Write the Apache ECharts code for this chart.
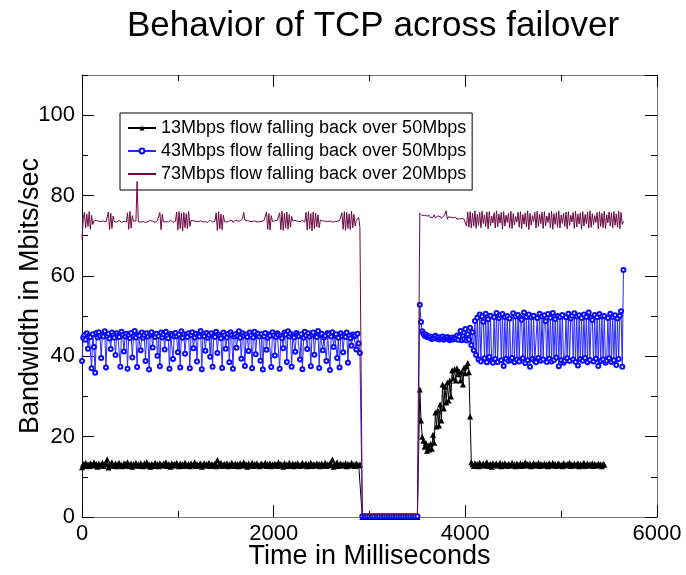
<!DOCTYPE html>
<html>
<head>
<meta charset="utf-8">
<script src="https://cdn.jsdelivr.net/npm/echarts@6/dist/echarts.min.js"></script>
<style>
  html, body { margin: 0; padding: 0; background: #fff; }
  #chart { width: 686px; height: 575px; }
</style>
</head>
<body>
<div id="chart"></div>
<script>
// each run of samples has its own start time (ms) and spacing (ms)
const BEFORE = { start: 0, step: 12.5 };
const OUTAGE = { start: 2925, step: 25 };
const AFTER = { start: 3525, step: 12.5 };

const seriesNames = [
  '13Mbps flow falling back over 50Mbps',
  '43Mbps flow falling back over 50Mbps',
  '73Mbps flow falling back over 20Mbps'
];

// 13 Mbps flow
const tcp13Before = [
  12.4, 13.2, 12.7, 13.5, 12.9, 13.1, 12.6, 13.4, 13.0, 12.8,
  13.6, 12.9, 13.2, 12.5, 13.3, 13.0, 12.8, 13.5, 12.7, 13.1,
  13.4, 14.4, 12.3, 13.2, 12.9, 13.6, 12.7, 13.0, 13.3, 12.6,
  13.1, 13.5, 12.8, 13.0, 12.6, 13.4, 13.2, 12.9, 13.6, 12.7,
  13.0, 13.3, 12.5, 13.2, 12.9, 13.5, 12.8, 13.1, 12.7, 13.4,
  13.0, 12.6, 13.3, 12.9, 13.6, 12.8, 13.1, 12.5, 13.2, 13.0,
  12.7, 13.5, 12.9, 13.2, 12.6, 13.4, 13.0, 12.8, 13.3, 12.9,
  13.6, 12.7, 13.1, 13.0, 12.5, 13.4, 12.9, 13.2, 12.8, 13.5,
  13.0, 12.6, 13.3, 12.9, 13.1, 12.7, 13.5, 13.0, 12.8, 13.2,
  12.6, 13.4, 13.0, 12.9, 13.6, 12.7, 13.2, 12.8, 13.1, 13.3,
  12.5, 13.0, 13.4, 12.8, 13.2, 12.9, 13.5, 12.7, 13.1, 13.0,
  12.8, 13.3, 12.6, 14.2, 12.9, 13.1, 13.5, 12.7, 13.0, 13.2,
  12.9, 13.4, 12.6, 13.1, 12.8, 13.5, 13.0, 12.7, 13.3, 12.9,
  13.2, 12.6, 13.4, 13.0, 12.8, 13.6, 12.9, 13.1, 12.5, 13.3,
  13.0, 12.8, 13.5, 12.7, 13.2, 12.9, 13.4, 13.0, 12.6, 13.1,
  13.3, 12.8, 13.0, 13.5, 12.7, 13.2, 12.9, 13.4, 12.6, 13.1,
  12.9, 13.3, 13.0, 12.7, 13.6, 12.8, 13.2, 13.0, 12.5, 13.4,
  12.9, 13.1, 12.7, 13.5, 13.0, 12.8, 13.3, 12.6, 13.2, 12.9,
  13.4, 13.0, 12.7, 13.1, 13.5, 12.8, 13.0, 13.3, 12.6, 13.2,
  12.9, 13.5, 12.7, 13.1, 13.0, 12.8, 13.4, 12.9, 13.2, 12.6,
  13.3, 13.0, 12.8, 13.5, 12.7, 13.1, 12.9, 13.4, 13.0, 14.3,
  12.5, 13.2, 12.9, 13.6, 12.7, 13.0, 13.3, 12.8, 13.1, 12.9,
  13.4, 12.6, 13.2, 13.0, 12.8, 13.5, 12.9, 13.1, 12.7, 13.3,
  13.0, 12.8, 13.1
];
const tcp13Outage = [
  0, 0, 0, 0, 0, 0, 0, 0, 0, 0, 0, 0,
  0, 0, 0, 0, 0, 0, 0, 0, 0, 0, 0, 0
];
const tcp13After = [
  31.7, 24.0, 20.0, 19.0, 17.5, 18.5, 16.5, 17.8, 16.8, 18.2,
  17.0, 20.5, 18.5, 26.0, 22.5, 26.5, 22.8, 28.0, 24.0, 33.0,
  27.0, 32.5, 28.5, 33.5, 29.0, 34.0, 30.0, 36.5, 34.5, 36.8,
  34.0, 37.0, 35.5, 36.2, 34.0, 36.0, 33.0, 37.2, 35.8, 37.5,
  38.3, 36.0, 25.0, 13.6,
  13.1, 12.7, 13.4, 12.9, 13.2, 12.6, 13.5, 13.0, 12.8, 13.3,
  12.9, 13.1, 13.6, 12.7, 13.0, 13.2, 12.5, 13.4, 12.9, 13.1,
  13.3, 12.8, 13.0, 13.5, 12.6, 13.2, 12.9, 13.4, 13.0, 12.7,
  13.2, 13.0, 12.8, 13.5, 12.9, 13.1, 12.6, 13.3, 13.0, 12.8,
  13.4, 12.7, 13.1, 13.0, 13.6, 12.8, 13.2, 12.9, 13.3, 12.6,
  13.0, 13.4, 12.8, 13.1, 12.9, 13.5, 12.7, 13.2, 13.0, 12.8,
  13.3, 12.9, 13.1, 12.6, 13.4, 13.0, 12.8, 13.5, 12.9, 13.2,
  12.7, 13.1, 13.3, 12.9, 13.0, 12.6, 13.4, 13.1, 12.8, 13.2,
  13.0, 13.5, 12.7, 13.1, 12.9, 13.3, 12.8, 13.0, 13.4, 12.6,
  13.2, 12.9, 13.1, 13.5, 12.7, 13.0, 13.3, 12.8, 13.1, 12.9,
  13.4, 12.7, 13.2, 13.0, 12.8, 13.3, 12.9, 13.1, 12.6, 13.2,
  13.0
];

// 43 Mbps flow
const tcp43Before = [
  38.8, 44.6, 45.3, 44.1, 45.7, 41.9, 45.2, 44.8, 37.0, 45.5,
  42.3, 35.9, 45.8, 44.7, 46.0, 45.1, 39.6, 45.4, 44.9, 46.2,
  37.2, 45.0, 45.6, 44.4, 41.8, 45.9, 45.2, 44.6, 40.3, 45.7,
  45.1, 44.8, 37.4, 46.1, 45.3, 41.2, 44.9, 45.6, 36.9, 45.2,
  44.5, 45.8, 39.7, 45.0, 46.3, 44.7, 37.3, 45.4, 45.1, 41.5,
  45.9, 44.6, 45.3, 38.8, 45.7, 44.9, 36.7, 45.5, 46.0, 42.2,
  45.2, 44.8, 45.6, 40.1, 45.0, 37.5, 45.9, 44.7, 45.4, 41.7,
  46.1, 45.1, 44.5, 36.9, 45.6, 45.3, 39.3, 44.9, 45.8, 45.0,
  41.0, 45.4, 37.2, 46.2, 44.6, 45.5, 40.6, 45.1, 44.8, 45.7,
  37.0, 45.3, 46.0, 42.0, 44.7, 45.6, 38.7, 45.2, 44.9, 46.3,
  36.8, 45.5, 45.0, 41.4, 45.8, 44.6, 45.3, 39.9, 45.7, 37.4,
  45.1, 44.8, 46.1, 40.8, 45.4, 45.0, 44.5, 37.1, 45.9, 45.2,
  41.9, 44.7, 45.6, 38.5, 46.0, 45.3, 36.9, 44.9, 45.5, 42.1,
  45.0, 46.2, 44.6, 39.4, 45.7, 45.1, 37.6, 45.4, 44.8, 41.3,
  45.9, 45.2, 37.0, 44.7, 46.1, 40.5, 45.3, 45.6, 44.9, 38.9,
  45.5, 36.7, 45.0, 45.8, 41.6, 44.6, 45.4, 45.1, 37.3, 46.0,
  45.2, 40.2, 44.8, 45.7, 45.3, 36.9, 45.0, 44.5, 42.0, 45.9,
  45.4, 38.6, 46.2, 44.9, 45.6, 37.4, 45.1, 44.7, 41.1, 45.8,
  45.3, 45.0, 39.2, 45.5, 36.8, 44.6, 46.1, 45.2, 41.8, 45.7,
  44.9, 37.5, 45.4, 45.9, 40.4, 45.0, 44.8, 46.3, 37.1, 45.3,
  45.6, 41.5, 44.7, 45.1, 38.8, 45.8, 45.4, 36.6, 44.9, 46.0,
  42.3, 45.2, 45.5, 39.6, 44.6, 37.2, 45.7, 45.0, 41.0, 45.3,
  44.8, 45.9, 38.4, 45.1, 44.5, 42.6, 45.4, 44.9, 45.2, 41.7,
  45.6, 43.2, 40.8
];
const tcp43Outage = [
  0.2, 0.2, 0.2, 0.2, 0.2, 0.2, 0.2, 0.2, 0.2, 0.2, 0.2, 0.2,
  0.2, 0.2, 0.2, 0.2, 0.2, 0.2, 0.2, 0.2, 0.2, 0.2, 0.2, 0.2
];
const tcp43After = [
  52.8, 48.5, 46.2, 45.6, 45.1, 45.4, 44.8, 45.0, 44.6, 44.9,
  44.3, 44.7, 44.5, 45.1, 44.4, 44.8, 44.2, 44.6, 44.5, 44.9,
  44.1, 44.6, 44.4, 44.8, 44.3, 44.0, 44.5, 44.7, 44.2, 44.6,
  44.4, 45.2, 44.1, 44.9, 46.3, 44.0, 45.0, 44.3, 46.8, 43.9,
  45.5, 44.2, 47.1, 42.8, 46.0, 41.5, 48.8, 40.3,
  49.6, 39.2, 50.4, 38.7, 49.9, 48.6, 39.5, 50.6, 38.5, 49.2,
  39.8, 50.1, 38.9, 38.4, 49.7, 39.3, 50.8, 38.6, 49.5, 50.2,
  39.0, 50.5, 37.6, 49.8, 39.4, 50.0, 38.8, 49.4, 39.1, 39.6,
  50.7, 38.5, 49.9, 39.2, 50.3, 38.7, 49.6, 49.1, 39.5, 50.9,
  38.3, 49.8, 39.0, 50.4, 37.4, 49.7, 39.3, 50.1, 38.8, 38.5,
  49.5, 39.6, 50.6, 38.9, 49.9, 39.2, 50.2, 48.7, 38.6, 50.5,
  39.4, 49.6, 38.7, 50.8, 39.1, 49.3, 39.7, 50.0, 37.5, 49.8,
  39.0, 50.3, 38.4, 38.9, 49.7, 39.5, 50.6, 38.8, 49.4, 50.1,
  39.2, 50.7, 38.6, 49.9, 37.7, 50.2, 39.3, 49.5, 38.9, 50.4,
  39.6, 49.8, 38.5, 50.9, 39.1, 49.6, 49.0, 38.7, 50.3, 39.4,
  49.7, 37.6, 50.5, 38.8, 49.9, 39.2, 50.0, 38.4, 38.9, 49.5,
  39.5, 50.6, 38.6, 49.8, 39.0, 50.2, 37.8, 49.4, 39.3, 50.1,
  51.2, 37.4, 61.5
];

// 73 Mbps flow
const tcp73Before = [
  69.0, 74.2, 75.8, 71.9, 75.4, 72.3, 76.0, 71.6, 75.1, 72.8,
  73.7, 73.5, 73.8, 73.4, 73.6, 73.9, 73.5, 73.3, 73.7, 73.6,
  73.4, 73.8, 75.9, 71.5, 75.6, 71.8, 74.9, 73.5, 73.7, 73.4,
  73.6, 73.8, 73.5, 73.3, 73.7, 73.6, 73.9, 73.4, 75.7, 71.6,
  76.1, 71.9, 75.0, 73.6, 73.4, 73.7, 83.5, 73.5, 73.8, 73.4,
  73.6, 73.5, 73.9, 73.3, 73.7, 73.5, 73.6, 73.8, 73.4, 73.6,
  73.7, 73.3, 73.5, 73.8, 73.6, 75.8, 71.5, 75.3, 73.4, 73.7,
  73.5, 73.8, 73.4, 73.6, 73.9, 73.5, 73.3, 73.7, 73.6, 75.9,
  71.4, 76.0, 71.8, 75.6, 71.2, 75.8, 72.0, 75.5, 71.7, 76.1,
  72.3, 73.8, 73.5, 73.7, 73.4, 73.6, 73.8, 73.5, 73.3, 73.7,
  73.6, 73.4, 73.8, 73.5, 73.7, 73.3, 73.6, 73.9, 73.5, 73.4,
  73.7, 73.6, 75.7, 71.3, 76.0, 71.7, 75.4, 71.5, 75.1, 73.5,
  73.8, 73.4, 73.6, 73.7, 73.5, 73.9, 73.3, 73.6, 73.8, 73.4,
  73.7, 73.5, 73.6, 73.4, 74.2, 75.8, 73.9, 73.5, 73.7, 73.4,
  73.6, 73.8, 73.5, 73.3, 73.7, 73.6, 73.4, 73.8, 73.5, 73.7,
  73.6, 73.4, 73.8, 73.5, 75.9, 71.6, 75.5, 71.4, 75.0, 73.6,
  73.4, 73.7, 73.5, 73.8, 73.6, 75.7, 71.5, 76.1, 71.3, 75.6,
  71.9, 75.9, 71.6, 75.3, 72.1, 74.8, 73.7, 73.5, 73.8, 73.4,
  73.6, 73.7, 73.5, 73.3, 73.8, 73.6, 73.4, 75.8, 71.4, 76.0,
  71.7, 75.5, 71.2, 75.9, 71.8, 75.6, 72.2, 75.2, 72.0, 73.9,
  73.5, 73.7, 73.4, 73.6, 73.8, 73.5, 73.3, 73.7, 73.6, 73.4,
  73.8, 73.5, 73.7, 73.6, 73.4, 73.8, 73.5, 75.7, 71.6, 76.0,
  71.3, 75.8, 71.8, 75.4, 71.5, 76.1, 72.0, 75.3, 72.4, 73.8,
  73.5, 74.6, 72.0
];
const tcp73Outage = [
  0.7, 0.7, 0.7, 0.7, 0.7, 0.7, 0.7, 0.7, 0.7, 0.7, 0.7, 0.7,
  0.7, 0.7, 0.7, 0.7, 0.7, 0.7, 0.7, 0.7, 0.7, 0.7, 0.7, 0.7
];
const tcp73After = [
  75.6, 75.2, 75.0, 74.8, 75.1, 74.7, 74.9, 74.6, 75.0, 74.5,
  74.8, 74.6, 75.2, 74.4, 74.7, 74.9, 74.5, 74.8, 74.3, 74.6,
  74.9, 75.4, 76.2, 74.1, 74.7, 74.4, 74.6, 74.2, 74.5, 74.3,
  74.6, 74.1, 74.4, 74.2, 74.0, 74.3, 73.9, 74.1, 73.8, 72.4,
  75.9, 72.1, 76.0, 71.9, 75.6, 72.4, 76.2, 71.8, 75.3, 72.6,
  75.8, 72.0, 76.1, 73.0, 75.2, 72.3, 75.9, 71.7, 76.0, 72.5,
  74.9, 73.2, 75.7, 71.9, 76.2, 72.2, 75.4, 73.1, 75.8, 71.6,
  76.0, 72.4, 75.1, 73.3, 75.6, 72.0, 76.1, 71.8, 75.5, 72.7,
  74.8, 73.4, 75.9, 72.1, 76.0, 71.7, 75.3, 72.9, 75.7, 72.2,
  76.2, 71.5, 75.6, 72.6, 75.0, 73.5, 75.8, 71.9, 76.1, 72.3,
  75.4, 73.0, 75.9, 71.8, 76.0, 72.4, 74.9, 73.3, 75.7, 72.0,
  76.1, 71.6, 75.5, 72.8, 75.8, 72.1, 76.2, 71.9, 75.2, 73.1,
  75.6, 72.3, 75.9, 71.7, 76.0, 72.5, 75.1, 73.4, 75.8, 71.8,
  76.1, 72.2, 75.4, 72.9, 75.7, 71.6, 76.0, 72.4, 75.3, 73.0,
  75.9, 71.9, 76.2, 72.1, 75.5, 72.7, 75.0, 73.3, 75.8, 71.7,
  76.0, 72.3, 75.6, 72.0, 76.1, 71.8, 75.2, 73.2, 75.9, 72.4,
  75.7, 71.9, 76.0, 72.6, 75.4, 72.1, 76.2, 71.7, 75.8, 72.8,
  73.6
];

const xTicks = { min: 0, max: 6000, interval: 2000 };
const yTicks = { min: 0, max: 110, interval: 20, minorInterval: 10 };

function run(vals, seg) {
  return vals.map((v, i) => [seg.start + i * seg.step, v]);
}
function toPoints(before, outage, after) {
  return run(before, BEFORE).concat(run(outage, OUTAGE), run(after, AFTER));
}

const FONT = 'Liberation Sans, Arial, sans-serif';
const frameColor = '#777';

const chart = echarts.init(document.getElementById('chart'));

function xAxisDef(pos, labels) {
  return {
    type: 'value',
    position: pos,
    min: xTicks.min,
    max: xTicks.max,
    interval: xTicks.interval,
    name: labels ? 'Time in Milliseconds' : '',
    nameLocation: 'middle',
    nameGap: 26,
    nameMoveOverlap: false,
    nameTextStyle: { fontSize: 27, color: '#000', fontFamily: FONT },
    axisLine: { show: true, onZero: false, lineStyle: { color: frameColor, width: 1 } },
    axisTick: { show: true, inside: true, length: 12, lineStyle: { color: '#000' } },
    minorTick: { show: true, splitNumber: 2, length: 6, lineStyle: { color: '#000' } },
    axisLabel: {
      show: labels, fontSize: 22, color: '#000', fontFamily: FONT, margin: 6,
      formatter: v => String(v)
    },
    splitLine: { show: false }
  };
}

function yAxisDef(pos, interval, tickLen, labels, line) {
  return {
    type: 'value',
    position: pos,
    min: yTicks.min,
    max: yTicks.max,
    interval: interval,
    name: labels ? 'Bandwidth in Mbits/sec' : '',
    nameLocation: 'middle',
    nameGap: 38,
    nameMoveOverlap: false,
    nameTextStyle: { fontSize: 27, color: '#000', fontFamily: FONT },
    axisLine: { show: line, onZero: false, lineStyle: { color: pos === 'left' ? '#111' : frameColor, width: 1 } },
    axisTick: { show: true, inside: true, length: tickLen, lineStyle: { color: '#000' } },
    axisLabel: {
      show: labels, fontSize: 22, color: '#000', fontFamily: FONT, margin: 7,
      showMaxLabel: false
    },
    splitLine: { show: false }
  };
}

const option = {
  animation: false,
  backgroundColor: '#fff',
  title: {
    text: 'Behavior of TCP across failover',
    left: 368,
    top: 4,
    textAlign: 'center',
    textStyle: { fontSize: 35, fontWeight: 'normal', color: '#000', fontFamily: FONT }
  },
  grid: { left: 82, right: 29, top: 75, bottom: 55 },
  legend: {
    orient: 'vertical',
    left: 120,
    top: 113,
    padding: [6, 6, 7, 7],
    itemGap: 5,
    itemWidth: 28,
    itemHeight: 6,
    borderColor: '#000',
    borderWidth: 1,
    borderRadius: 0,
    backgroundColor: '#fff',
    textStyle: { fontSize: 18, color: '#000', fontFamily: FONT },
    data: [
      seriesNames[0],
      seriesNames[1],
      { name: seriesNames[2], itemStyle: { opacity: 0 } }
    ]
  },
  xAxis: [xAxisDef('bottom', true), xAxisDef('top', false)],
  yAxis: [
    yAxisDef('left', yTicks.interval, 12, true, true),
    yAxisDef('left', yTicks.minorInterval, 6, false, false),
    yAxisDef('right', yTicks.interval, 12, false, true),
    yAxisDef('right', yTicks.minorInterval, 6, false, false)
  ],
  series: [
    {
      name: seriesNames[0],
      type: 'line',
      data: toPoints(tcp13Before, tcp13Outage, tcp13After),
      symbol: 'triangle',
      symbolSize: 6,
      showSymbol: true,
      showAllSymbol: true,
      color: '#000',
      lineStyle: { width: 1, color: '#000' },
      itemStyle: { color: '#000' },
      z: 2
    },
    {
      name: seriesNames[1],
      type: 'line',
      data: toPoints(tcp43Before, tcp43Outage, tcp43After),
      symbol: 'emptyCircle',
      symbolSize: 4,
      showSymbol: true,
      showAllSymbol: true,
      color: '#0a0aff',
      lineStyle: { width: 1, color: '#2a2aff' },
      itemStyle: { color: '#0a0aff', borderWidth: 1 },
      z: 3
    },
    {
      name: seriesNames[2],
      type: 'line',
      data: toPoints(tcp73Before, tcp73Outage, tcp73After),
      symbol: 'none',
      color: '#6b0a42',
      lineStyle: { width: 1, color: '#6b0a42' },
      z: 4
    }
  ]
};

chart.setOption(option);
</script>
</body>
</html>
